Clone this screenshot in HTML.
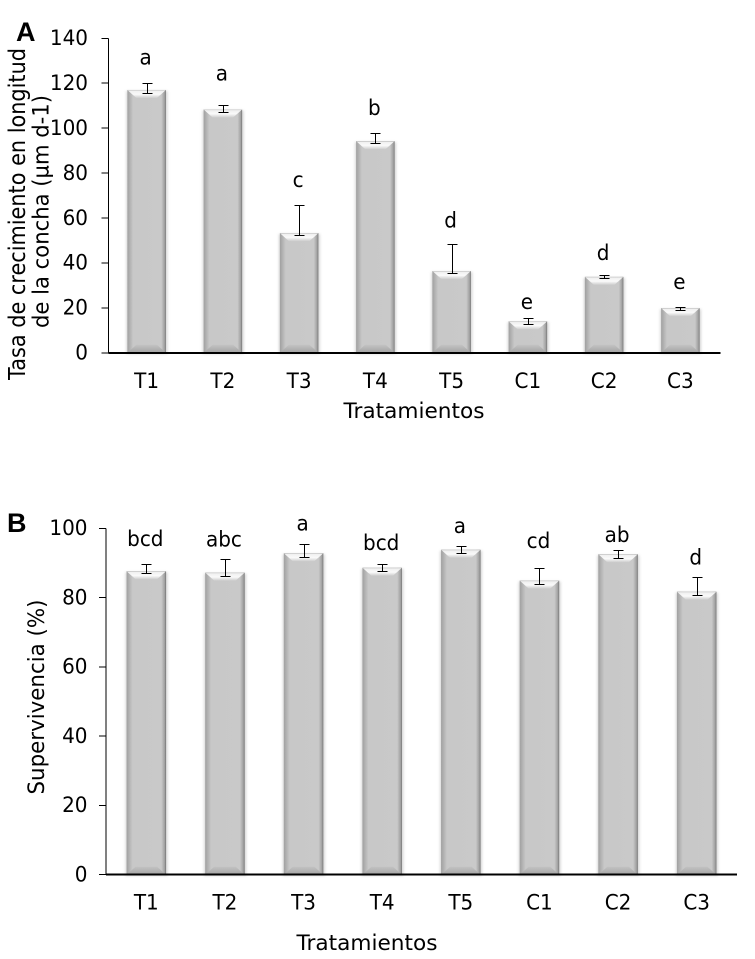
<!DOCTYPE html>
<html lang="es">
<head>
<meta charset="utf-8">
<title>Crecimiento y supervivencia por tratamiento</title>
<style>
html,body{margin:0;padding:0;background:#fff;}
svg{display:block;}
text{font-family:"DejaVu Sans","Liberation Sans",sans-serif;fill:#000;font-size:21.5px;}
.panel{font-family:"Liberation Sans",sans-serif;font-weight:bold;font-size:27px;}
</style>
</head>
<body>
<svg id="fig" xmlns="http://www.w3.org/2000/svg" width="755" height="959" viewBox="0 0 755 959">
<defs>
<linearGradient id="side" x1="0" x2="1" y1="0" y2="0">
<stop offset="0" stop-color="#a0a0a0"/>
<stop offset="0.03" stop-color="#a8a8a8"/>
<stop offset="0.15" stop-color="#c8c8c8"/>
<stop offset="0.88" stop-color="#c9c9c9"/>
<stop offset="0.97" stop-color="#9e9e9e"/>
<stop offset="1" stop-color="#6e6e6e"/>
</linearGradient>
<linearGradient id="bevelTop" x1="0" x2="0" y1="0" y2="1">
<stop offset="0" stop-color="#b8b8b8"/>
<stop offset="0.12" stop-color="#f0f0f0"/>
<stop offset="0.55" stop-color="#fafafa"/>
<stop offset="1" stop-color="#cdcdcd"/>
</linearGradient>
<linearGradient id="bevelBottom" x1="0" x2="0" y1="0" y2="1">
<stop offset="0" stop-color="#c2c2c2"/>
<stop offset="1" stop-color="#a4a4a4"/>
</linearGradient>
<filter id="soft" x="-20%" y="-5%" width="140%" height="110%"><feGaussianBlur stdDeviation="1.4"/></filter>
</defs>
<g id="chartA"></g>
<g id="chartB"></g>
<text class="panel" x="16" y="41">A</text>
<text class="panel" x="7" y="532">B</text>
<text x="0" y="0" transform="translate(25,214) rotate(-90)" text-anchor="middle" style="font-size:23.5px" textLength="332" lengthAdjust="spacingAndGlyphs">Tasa de crecimiento en longitud</text>
<text x="0" y="0" transform="translate(48.5,211.5) rotate(-90)" text-anchor="middle" style="font-size:22.5px" textLength="233" lengthAdjust="spacingAndGlyphs">de la concha (µm d-1)</text>
<text x="414" y="418" text-anchor="middle" textLength="141" lengthAdjust="spacingAndGlyphs">Tratamientos</text>
<text x="0" y="0" transform="translate(44,697) rotate(-90)" text-anchor="middle" style="font-size:22px" textLength="195" lengthAdjust="spacingAndGlyphs">Supervivencia (%)</text>
<text x="367" y="950" text-anchor="middle" textLength="141" lengthAdjust="spacingAndGlyphs">Tratamientos</text>
</svg>
<script>
const categories = ["T1","T2","T3","T4","T5","C1","C2","C3"];

const growthValues = [117, 108.3, 53.3, 94.2, 36.4, 14, 33.8, 19.9];
const growthErrHigh = [120.3, 110.5, 66, 97.8, 48.4, 15.4, 34.5, 20.4];
const growthErrLow = [115.8, 107, 52.4, 93.5, 35.5, 13, 33.2, 19];
const growthLetters = ["a","a","c","b","d","e","d","e"];
const growthLetterGap = [8.1, 10.8, 7.7, 8, 7.4, 4, 6.8, 8];
const growthTicks = [0,20,40,60,80,100,120,140];

const survivalValues = [87.6, 87.2, 92.8, 88.6, 93.8, 84.9, 92.5, 81.7];
const survivalErrHigh = [89.7, 91, 95.4, 89.7, 94.9, 88.4, 93.6, 85.9];
const survivalErrLow = [87, 86.1, 91.6, 87.6, 92.8, 83.8, 91.3, 80.7];
const survivalLetters = ["bcd","abc","a","bcd","a","cd","ab","d"];
const survivalLetterGap = [5.2, 3.8, 3.9, 4, 3.75, 5.9, 2.5, 3.6];
const survivalTicks = [0,20,40,60,80,100];

const NS = "http://www.w3.org/2000/svg";

function make(parent, tag, attrs) {
  const el = document.createElementNS(NS, tag);
  for (const k in attrs) el.setAttribute(k, attrs[k]);
  parent.appendChild(el);
  return el;
}

function narrowText(parent, x, y, anchor, content) {
  const el = make(parent, "text", {x: 0, y: 0, "text-anchor": anchor, transform: `translate(${x},${y}) scale(0.93,1)`});
  el.textContent = content;
  return el;
}

function drawChart(cfg) {
  const root = document.getElementById(cfg.id);
  const yPos = v => cfg.y0 - (v - cfg.vMin) * (cfg.y0 - cfg.y1) / (cfg.vMax - cfg.vMin);
  const step = cfg.plotW / cfg.cats.length;
  const xPos = i => cfg.x0 + cfg.offset + step * (i + 0.5);

  cfg.values.forEach((v, i) => {
    const g = make(root, "g", {});
    
    
    const cx = xPos(i), top = yPos(v), bot = cfg.y0, w = cfg.barW;
    const l = cx - w / 2, r = cx + w / 2, h = bot - top;
    make(g, "rect", {x: l - 1, y: top + 1, width: w + 2.5, height: h, fill: "#c4c4c4", opacity: 0.7, filter: "url(#soft)"});
    make(g, "rect", {x: l, y: top, width: w, height: h, fill: "url(#side)"});
    const b = Math.min(8, h / 2), s = Math.min(9, b * 1.2);
    make(g, "polygon", {points: `${l},${top} ${r},${top} ${r - s},${top + b} ${l + s},${top + b}`, fill: "url(#bevelTop)"});
    make(g, "polygon", {points: `${l},${bot} ${r},${bot} ${r - s},${bot - b} ${l + s},${bot - b}`, fill: "url(#bevelBottom)"});
  });

  cfg.values.forEach((v, i) => {
    const g = make(root, "g", {stroke: "#000", "stroke-width": 1, "shape-rendering": "crispEdges"});
    
    
    const cx = Math.round(xPos(i)) + 0.5;
    const hi = Math.round(yPos(cfg.errHigh[i])) + 0.5, lo = Math.round(yPos(cfg.errLow[i])) + 0.5;
    make(g, "line", {x1: cx, x2: cx, y1: hi, y2: lo});
    make(g, "line", {x1: cx - 5, x2: cx + 5, y1: hi, y2: hi});
    make(g, "line", {x1: cx - 5, x2: cx + 5, y1: lo, y2: lo});

    const letter = narrowText(root, xPos(i) - 1, yPos(cfg.errHigh[i] + cfg.gaps[i]), "middle", cfg.letters[i]);
    
    

    const label = narrowText(root, xPos(i), cfg.y0 + cfg.labelDy, "middle", cfg.cats[i]);
    
    
  });

  const axes = make(root, "g", {stroke: "#000", "shape-rendering": "crispEdges"});
  
  
  make(axes, "line", {x1: cfg.x0, x2: cfg.x0, y1: yPos(cfg.vMax), y2: cfg.y0, "stroke-width": 1.4});
  make(axes, "line", {x1: cfg.x0, x2: cfg.x0 + cfg.plotW + 2, y1: cfg.y0, y2: cfg.y0, "stroke-width": 2});

  cfg.ticks.forEach(t => {
    const y = yPos(t);
    make(axes, "line", {x1: cfg.x0 - 7, x2: cfg.x0, y1: y, y2: y, "stroke-width": 1});
    const tl = narrowText(root, cfg.x0 - cfg.tickGap, y + 6.8, "end", t);
    
    
  });
}

drawChart({
  id: "chartA", key: "a", cats: categories,
  values: growthValues, errHigh: growthErrHigh, errLow: growthErrLow,
  letters: growthLetters, gaps: growthLetterGap, ticks: growthTicks,
  vMin: 0, vMax: 140, x0: 108.5, y0: 352.8, y1: 38.3, plotW: 610, offset: 0, barW: 38.5, labelDy: 35, tickGap: 20.5
});

drawChart({
  id: "chartB", key: "b", cats: categories,
  values: survivalValues, errHigh: survivalErrHigh, errLow: survivalErrLow,
  letters: survivalLetters, gaps: survivalLetterGap, ticks: survivalTicks,
  vMin: 0, vMax: 100, x0: 106, y0: 874.7, y1: 528.3, plotW: 629, offset: 1, barW: 39.5, labelDy: 35, tickGap: 18.5
});
</script>
</body>
</html>
